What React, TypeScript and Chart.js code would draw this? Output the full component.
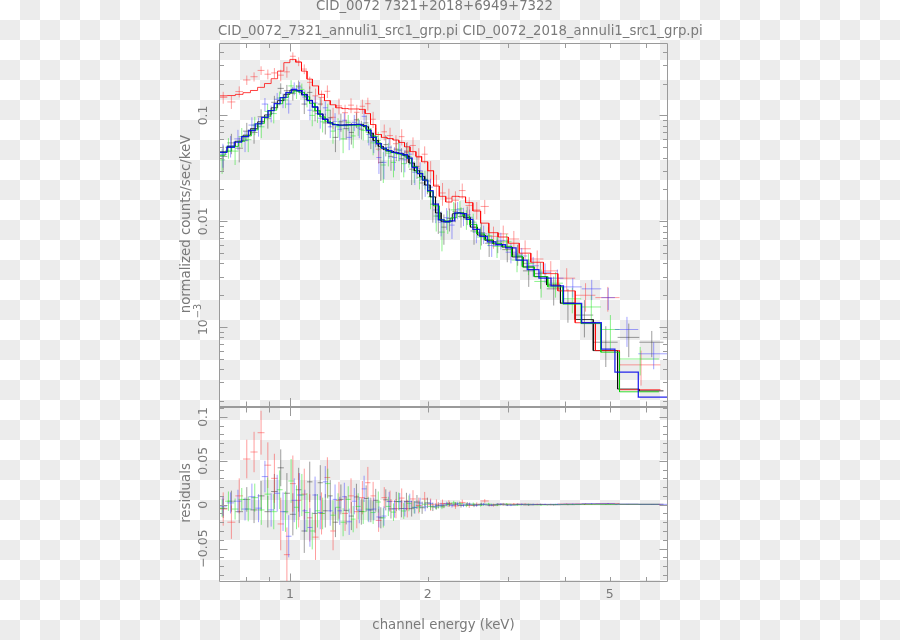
import React, { useEffect, useRef } from 'react';
import { Chart, registerables } from 'chart.js';

Chart.register(...registerables);

// ---------- axis ranges ----------
const xRange = [0.7, 6.7];
const yRange = [1.76e-4, 0.483];
const rRange = [-0.087, 0.1113];

// ---------- texts / tick labels ----------
const titleMain = 'CID_0072 7321+2018+6949+7322';
const titleSub = 'CID_0072_7321_annuli1_src1_grp.pi CID_0072_2018_annuli1_src1_grp.pi';
const xTitle = 'channel energy (keV)';
const yTitleTop = 'normalized counts/sec/keV';
const yTitleBottom = 'residuals';
const xTickLabelValues = [1, 2, 5];
const xTickLabelTexts = ['1', '2', '5'];
const xTickValues = [0.8, 0.9, 1, 2, 3, 4, 5, 6];
const yTopLabelValues = [0.1, 0.01, 0.001];
const yTopLabelTexts = ['0.1', '0.01', '10'];
const yTopLabelSups = ['', '', '\u22123'];
const resLabelValues = [0.1, 0.05, 0, -0.05];
const resLabelTexts = ['0.1', '0.05', '0', '\u22120.05'];

// ---------- data: black ----------
const blackEdges = [0.700,0.730,0.760,0.790,0.820,0.850,0.880,0.910,0.940,0.970,1.000,1.030,1.060,1.090,1.120,1.150,1.180,1.210,1.240,1.275,1.310,1.345,1.380,1.415,1.450,1.485,1.520,1.560,1.600,1.640,1.685,1.730,1.775,1.820,1.870,1.920,1.970,2.025,2.080,2.140,2.200,2.265,2.330,2.400,2.480,2.570,2.670,2.780,2.910,3.060,3.230,3.420,3.640,3.900,4.200,4.600,5.200,5.800,6.550];
const blackFlux = [0.041,0.055,0.049,0.071,0.069,0.097,0.093,0.133,0.180,0.171,0.162,0.189,0.128,0.165,0.110,0.128,0.085,0.095,0.062,0.087,0.075,0.069,0.091,0.074,0.085,0.062,0.063,0.036,0.053,0.041,0.048,0.039,0.045,0.031,0.033,0.023,0.024,0.0145,0.0112,0.0088,0.0106,0.0123,0.0111,0.0115,0.0081,0.0078,0.0062,0.0064,0.0054,0.0049,0.0034,0.0032,0.0023,0.0017,0.0013,0.00072,0.0008,0.00072];
const blackErr = [0.011,0.012,0.013,0.014,0.015,0.017,0.018,0.020,0.021,0.023,0.024,0.025,0.025,0.023,0.022,0.020,0.019,0.018,0.017,0.017,0.016,0.016,0.015,0.015,0.015,0.014,0.013,0.012,0.012,0.011,0.011,0.010,0.010,0.009,0.008,0.007,0.006,0.0048,0.0036,0.0028,0.0026,0.0025,0.0024,0.0023,0.0021,0.0019,0.0016,0.0014,0.0013,0.0011,0.0010,0.0009,0.0007,0.0006,0.0005,0.0003,0.00028,0.0002];
const blackModel = [0.0452,0.051,0.057,0.065,0.075,0.087,0.101,0.118,0.138,0.158,0.173,0.172,0.158,0.139,0.120,0.103,0.092,0.085,0.082,0.081,0.0815,0.082,0.0822,0.0818,0.078,0.068,0.058,0.051,0.0475,0.0458,0.0444,0.0434,0.0415,0.0355,0.0300,0.0265,0.0220,0.0170,0.0120,0.0100,0.0100,0.0118,0.0120,0.0108,0.0088,0.0074,0.0066,0.0061,0.0057,0.0046,0.0037,0.0030,0.0025,0.00168,0.00118,0.00060,0.00026,0.00025];

// ---------- data: red ----------
const redEdges = [0.700,0.730,0.760,0.790,0.820,0.850,0.880,0.910,0.940,0.970,1.000,1.030,1.060,1.090,1.120,1.155,1.190,1.225,1.260,1.300,1.340,1.380,1.420,1.460,1.500,1.540,1.585,1.630,1.680,1.730,1.780,1.830,1.885,1.940,2.000,2.060,2.120,2.190,2.260,2.340,2.420,2.510,2.610,2.720,2.850,3.000,3.170,3.360,3.580,3.850,4.200,4.650,5.250,6.450];
const redFlux = [0.148,0.134,0.168,0.216,0.232,0.266,0.245,0.252,0.240,0.258,0.362,0.323,0.274,0.205,0.153,0.148,0.169,0.096,0.123,0.106,0.125,0.107,0.122,0.129,0.092,0.048,0.070,0.0645,0.054,0.063,0.046,0.052,0.040,0.043,0.030,0.022,0.0185,0.0165,0.0158,0.0195,0.0141,0.0128,0.0138,0.0072,0.0076,0.0068,0.0055,0.0044,0.0034,0.0029,0.0020,0.0019,0.00044];
const redErr = [0.019,0.019,0.020,0.022,0.023,0.025,0.026,0.028,0.030,0.031,0.032,0.031,0.029,0.027,0.026,0.024,0.023,0.022,0.021,0.020,0.020,0.019,0.019,0.018,0.016,0.013,0.012,0.012,0.011,0.011,0.010,0.010,0.009,0.008,0.007,0.0055,0.0045,0.0038,0.0034,0.0032,0.0028,0.0024,0.0021,0.0017,0.0015,0.0013,0.0011,0.0009,0.0008,0.0007,0.0006,0.0005,0.00016];
const redModel = [0.153,0.154,0.158,0.164,0.172,0.184,0.200,0.222,0.262,0.315,0.338,0.318,0.262,0.220,0.190,0.158,0.138,0.126,0.118,0.116,0.115,0.115,0.114,0.104,0.082,0.066,0.062,0.0605,0.0585,0.0555,0.0505,0.0455,0.0410,0.0365,0.0300,0.0215,0.0172,0.0152,0.0172,0.0170,0.0150,0.0125,0.0096,0.0078,0.0071,0.0062,0.0050,0.0041,0.0032,0.0022,0.00110,0.00060,0.000256];

// ---------- data: green ----------
const greenEdges = [0.700,0.722,0.746,0.772,0.798,0.824,0.852,0.880,0.908,0.936,0.964,0.992,1.020,1.048,1.076,1.104,1.134,1.164,1.194,1.226,1.258,1.290,1.324,1.358,1.392,1.428,1.464,1.500,1.540,1.580,1.620,1.662,1.706,1.750,1.796,1.844,1.894,1.946,2.000,2.058,2.118,2.180,2.245,2.315,2.390,2.470,2.560,2.660,2.770,2.900,3.050,3.220,3.420,3.660,3.950,4.330,4.780,5.250,6.400];
const greenFlux = [0.038,0.050,0.046,0.063,0.059,0.081,0.078,0.109,0.104,0.146,0.140,0.190,0.168,0.176,0.141,0.100,0.104,0.087,0.112,0.071,0.078,0.060,0.086,0.064,0.079,0.072,0.069,0.055,0.058,0.034,0.044,0.036,0.047,0.035,0.041,0.030,0.026,0.025,0.017,0.0112,0.0079,0.0101,0.0128,0.0131,0.0105,0.0098,0.0071,0.0073,0.0058,0.0064,0.0043,0.0040,0.0027,0.0026,0.00185,0.00155,0.00095,0.00050];
const greenErr = [0.010,0.011,0.012,0.013,0.014,0.016,0.017,0.019,0.020,0.022,0.023,0.025,0.025,0.024,0.022,0.021,0.019,0.018,0.017,0.017,0.016,0.016,0.015,0.015,0.015,0.014,0.014,0.013,0.012,0.011,0.011,0.010,0.010,0.009,0.009,0.007,0.006,0.005,0.004,0.0032,0.0027,0.0025,0.0024,0.0024,0.0022,0.0020,0.0017,0.0015,0.0013,0.0012,0.0010,0.0009,0.0008,0.0007,0.0005,0.00045,0.00035,0.00015];
const greenModel = [0.042,0.046,0.051,0.057,0.064,0.073,0.084,0.097,0.112,0.129,0.148,0.163,0.171,0.165,0.150,0.130,0.111,0.097,0.088,0.083,0.081,0.080,0.080,0.0805,0.081,0.080,0.074,0.064,0.055,0.049,0.046,0.0445,0.0433,0.0422,0.0395,0.0330,0.0285,0.0245,0.0190,0.0140,0.0103,0.0098,0.0108,0.0120,0.0112,0.0093,0.0076,0.0067,0.0062,0.0058,0.0047,0.0037,0.0030,0.0024,0.00165,0.00108,0.00058,0.000245];

// ---------- data: blue ----------
const blueEdges = [0.700,0.728,0.756,0.784,0.812,0.840,0.868,0.896,0.924,0.952,0.980,1.008,1.036,1.064,1.092,1.120,1.150,1.180,1.210,1.240,1.270,1.300,1.330,1.365,1.400,1.435,1.470,1.505,1.545,1.585,1.625,1.670,1.715,1.760,1.805,1.850,1.900,1.950,2.000,2.055,2.110,2.170,2.230,2.290,2.360,2.430,2.510,2.600,2.700,2.820,2.960,3.120,3.300,3.500,3.720,3.960,4.340,4.790,5.130,5.770,6.700];
const blueFlux = [0.043,0.052,0.060,0.058,0.081,0.079,0.128,0.105,0.142,0.139,0.128,0.180,0.182,0.149,0.112,0.131,0.094,0.118,0.078,0.088,0.074,0.090,0.062,0.086,0.076,0.098,0.066,0.057,0.040,0.036,0.050,0.040,0.047,0.038,0.043,0.029,0.030,0.022,0.021,0.0128,0.0098,0.0108,0.0092,0.0128,0.0112,0.0109,0.0079,0.0076,0.0059,0.0066,0.0051,0.0047,0.0038,0.0033,0.0029,0.0024,0.0023,0.0019,0.00095,0.00056];
const blueErr = [0.011,0.012,0.013,0.013,0.015,0.016,0.018,0.019,0.021,0.022,0.024,0.025,0.025,0.024,0.022,0.021,0.019,0.018,0.017,0.017,0.016,0.016,0.015,0.015,0.015,0.015,0.014,0.013,0.012,0.011,0.011,0.010,0.010,0.009,0.009,0.007,0.006,0.005,0.0042,0.0032,0.0026,0.0025,0.0024,0.0024,0.0022,0.0020,0.0017,0.0015,0.0013,0.0012,0.0011,0.0009,0.0008,0.0007,0.0006,0.0005,0.0005,0.00045,0.0003,0.00016];
const blueModel = [0.0447,0.050,0.056,0.063,0.072,0.083,0.096,0.111,0.129,0.147,0.164,0.175,0.171,0.156,0.138,0.120,0.103,0.092,0.085,0.082,0.081,0.081,0.0815,0.082,0.0822,0.080,0.072,0.062,0.054,0.049,0.0465,0.0448,0.0437,0.0425,0.0395,0.0322,0.0282,0.0245,0.0195,0.0145,0.0103,0.0099,0.0101,0.0120,0.0118,0.0104,0.0084,0.0072,0.0064,0.0060,0.0056,0.0043,0.0035,0.0029,0.00245,0.00168,0.00110,0.00062,0.000375,0.000218];

// ---------- styling ----------
const FONT = '"DejaVu Sans", sans-serif';
const TEXT = '#7a7a7a';
const AXIS = '#9a9a9a';

const series = [
  { edges: blackEdges, flux: blackFlux, err: blackErr, model: blackModel, dataColor: 'rgba(40,40,40,0.45)', lineColor: 'rgba(0,0,0,0.75)' },
  { edges: redEdges, flux: redFlux, err: redErr, model: redModel, dataColor: 'rgba(255,40,40,0.45)', lineColor: 'rgba(255,0,0,0.75)' },
  { edges: greenEdges, flux: greenFlux, err: greenErr, model: greenModel, dataColor: 'rgba(30,230,30,0.5)', lineColor: 'rgba(0,210,0,0.8)' },
  { edges: blueEdges, flux: blueFlux, err: blueErr, model: blueModel, dataColor: 'rgba(50,50,255,0.45)', lineColor: 'rgba(0,0,235,0.85)' },
];

function crossPoints(edges: number[], vals: number[], errs: number[]) {
  const pts: { x: number; y: number | null }[] = [];
  for (let i = 0; i < vals.length; i++) {
    const lo = edges[i], hi = edges[i + 1], c = (lo + hi) / 2, v = vals[i], e = errs[i];
    pts.push({ x: lo, y: v }, { x: hi, y: v }, { x: hi, y: null });
    pts.push({ x: c, y: v - e }, { x: c, y: v + e }, { x: c, y: null });
  }
  return pts;
}

function stepPoints(edges: number[], model: number[]) {
  const pts: { x: number; y: number }[] = [];
  for (let i = 0; i < model.length; i++) {
    pts.push({ x: edges[i], y: model[i] }, { x: edges[i + 1], y: model[i] });
  }
  return pts;
}

function seg(ctx: CanvasRenderingContext2D, x1: number, y1: number, x2: number, y2: number) {
  ctx.moveTo(x1, y1);
  ctx.lineTo(x2, y2);
}

function rotatedText(ctx: CanvasRenderingContext2D, text: string, x: number, y: number, size: number, sup?: string) {
  ctx.save();
  ctx.translate(x, y);
  ctx.rotate(-Math.PI / 2);
  ctx.font = `${size}px ${FONT}`;
  ctx.textBaseline = 'middle';
  ctx.textAlign = 'center';
  ctx.fillText(text, 0, 0);
  if (sup) {
    const w = ctx.measureText(text).width;
    ctx.font = `${size * 0.78}px ${FONT}`;
    ctx.textAlign = 'left';
    ctx.fillText(sup, w / 2 + 1, -5);
  }
  ctx.restore();
}

function xTicks(ctx: CanvasRenderingContext2D, xs: any, T: number, B: number) {
  for (const v of xTickValues) {
    const px = Math.round(xs.getPixelForValue(v)) + 0.5;
    const len = v === 1 ? 8 : 4.5;
    seg(ctx, px, T, px, T + len);
    seg(ctx, px, B, px, B - len);
  }
}

const topDecor = {
  id: 'topDecor',
  afterDraw(chart: any) {
    const { ctx, chartArea: a } = chart;
    const xs = chart.scales.x, ys = chart.scales.y;
    const L = a.left + 0.5, R = a.right - 0.5, T = a.top + 0.5, B = a.bottom - 1;
    ctx.save();
    ctx.strokeStyle = AXIS;
    ctx.lineWidth = 1;
    ctx.beginPath();
    seg(ctx, L, B + 1, L, T);
    seg(ctx, L, T, R, T);
    seg(ctx, R, T, R, B + 1);
    xTicks(ctx, xs, T, B);
    for (let d = -4; d <= -1; d++) {
      for (let k = 1; k <= 9; k++) {
        const v = k * Math.pow(10, d);
        if (v < yRange[0] || v > yRange[1]) continue;
        const py = Math.round(ys.getPixelForValue(v)) + 0.5;
        const len = k === 1 ? 8 : 4.5;
        seg(ctx, L, py, L + len, py);
        seg(ctx, R, py, R - len, py);
      }
    }
    ctx.stroke();
    ctx.lineWidth = 2;
    ctx.beginPath();
    seg(ctx, a.left, a.bottom, a.right, a.bottom);
    ctx.stroke();

    ctx.fillStyle = TEXT;
    ctx.font = `13.3px ${FONT}`;
    ctx.textBaseline = 'middle';
    ctx.textAlign = 'center';
    ctx.fillText(titleMain, 434.5, 6.5);
    ctx.textAlign = 'left';
    ctx.fillText(titleSub, 218, 31.5);
    rotatedText(ctx, yTitleTop, 186.5, 224, 13.3);
    yTopLabelValues.forEach((v, i) => {
      rotatedText(ctx, yTopLabelTexts[i], 203.5, ys.getPixelForValue(v), 12.5, yTopLabelSups[i]);
    });
    ctx.restore();
  },
};

const bottomDecor = {
  id: 'bottomDecor',
  afterDraw(chart: any) {
    const { ctx, chartArea: a } = chart;
    const xs = chart.scales.x, ys = chart.scales.y;
    const L = a.left + 0.5, R = a.right - 0.5, T = a.top + 1, B = a.bottom + 0.5;
    ctx.save();
    ctx.strokeStyle = AXIS;
    ctx.lineWidth = 1;
    ctx.beginPath();
    seg(ctx, L, a.top, L, B);
    seg(ctx, L, B, R, B);
    seg(ctx, R, B, R, a.top);
    xTicks(ctx, xs, T, B);
    for (let i = -8; i <= 11; i++) {
      const v = i / 100;
      const py = Math.round(ys.getPixelForValue(v)) + 0.5;
      const len = i % 5 === 0 ? 8 : 4.5;
      seg(ctx, L, py, L + len, py);
      seg(ctx, R, py, R - len, py);
    }
    ctx.stroke();

    ctx.fillStyle = TEXT;
    ctx.textBaseline = 'middle';
    ctx.textAlign = 'center';
    ctx.font = `12.5px ${FONT}`;
    xTickLabelValues.forEach((v, i) => {
      ctx.fillText(xTickLabelTexts[i], xs.getPixelForValue(v), 594.5);
    });
    ctx.font = `13.3px ${FONT}`;
    ctx.fillText(xTitle, 443.5, 625.5);
    rotatedText(ctx, yTitleBottom, 186.5, 493, 13.3);
    resLabelValues.forEach((v, i) => {
      rotatedText(ctx, resLabelTexts[i], 203.5, ys.getPixelForValue(v), 12.5);
    });
    ctx.restore();
  },
};

function baseDataset(points: any[], color: string, order: number, width = 1) {
  return {
    data: points,
    borderColor: color,
    borderWidth: width,
    pointRadius: 0,
    fill: false,
    spanGaps: false,
    tension: 0,
    order,
  };
}

function topConfig(): any {
  const n = series.length;
  const datasets: any[] = [];
  series.forEach((s, i) => {
    datasets.push(baseDataset(crossPoints(s.edges, s.flux, s.err), s.dataColor, n + (n - 1 - i)));
    datasets.push(baseDataset(stepPoints(s.edges, s.model), s.lineColor, n - 1 - i, i === 3 ? 1.3 : 1));
  });
  return {
    type: 'line',
    data: { datasets },
    options: {
      animation: false,
      responsive: false,
      events: [],
      layout: { padding: { left: 219, right: 232, top: 43, bottom: 233 }, autoPadding: false },
      plugins: { legend: { display: false }, tooltip: { enabled: false }, title: { display: false } },
      scales: {
        x: { type: 'logarithmic', min: xRange[0], max: xRange[1], display: false },
        y: { type: 'logarithmic', min: yRange[0], max: yRange[1], display: false },
      },
    },
    plugins: [topDecor],
  };
}

function bottomConfig(): any {
  const n = series.length;
  const datasets: any[] = [];
  series.forEach((s, i) => {
    const resid = s.flux.map((f, j) => f - s.model[j]);
    datasets.push(baseDataset(crossPoints(s.edges, resid, s.err), s.dataColor, n - 1 - i));
  });
  return {
    type: 'line',
    data: { datasets },
    options: {
      animation: false,
      responsive: false,
      events: [],
      layout: { padding: { left: 219, right: 232, top: 407, bottom: 59 }, autoPadding: false },
      plugins: { legend: { display: false }, tooltip: { enabled: false }, title: { display: false } },
      scales: {
        x: { type: 'logarithmic', min: xRange[0], max: xRange[1], display: false },
        y: { type: 'linear', min: rRange[0], max: rRange[1], display: false },
      },
    },
    plugins: [bottomDecor],
  };
}

export default function App() {
  const topRef = useRef<HTMLCanvasElement>(null);
  const botRef = useRef<HTMLCanvasElement>(null);
  useEffect(() => {
    const c1 = new Chart(topRef.current as HTMLCanvasElement, topConfig());
    const c2 = new Chart(botRef.current as HTMLCanvasElement, bottomConfig());
    return () => {
      c1.destroy();
      c2.destroy();
    };
  }, []);
  return (
    <div
      style={{
        position: 'absolute',
        left: 0,
        top: 0,
        width: 900,
        height: 640,
        overflow: 'hidden',
        background: 'repeating-conic-gradient(#ececec 0% 25%, #ffffff 0% 50%) 0 0 / 40px 40px',
      }}
    >
      <canvas ref={topRef} width={900} height={640} style={{ position: 'absolute', left: 0, top: 0 }} />
      <canvas ref={botRef} width={900} height={640} style={{ position: 'absolute', left: 0, top: 0 }} />
    </div>
  );
}
